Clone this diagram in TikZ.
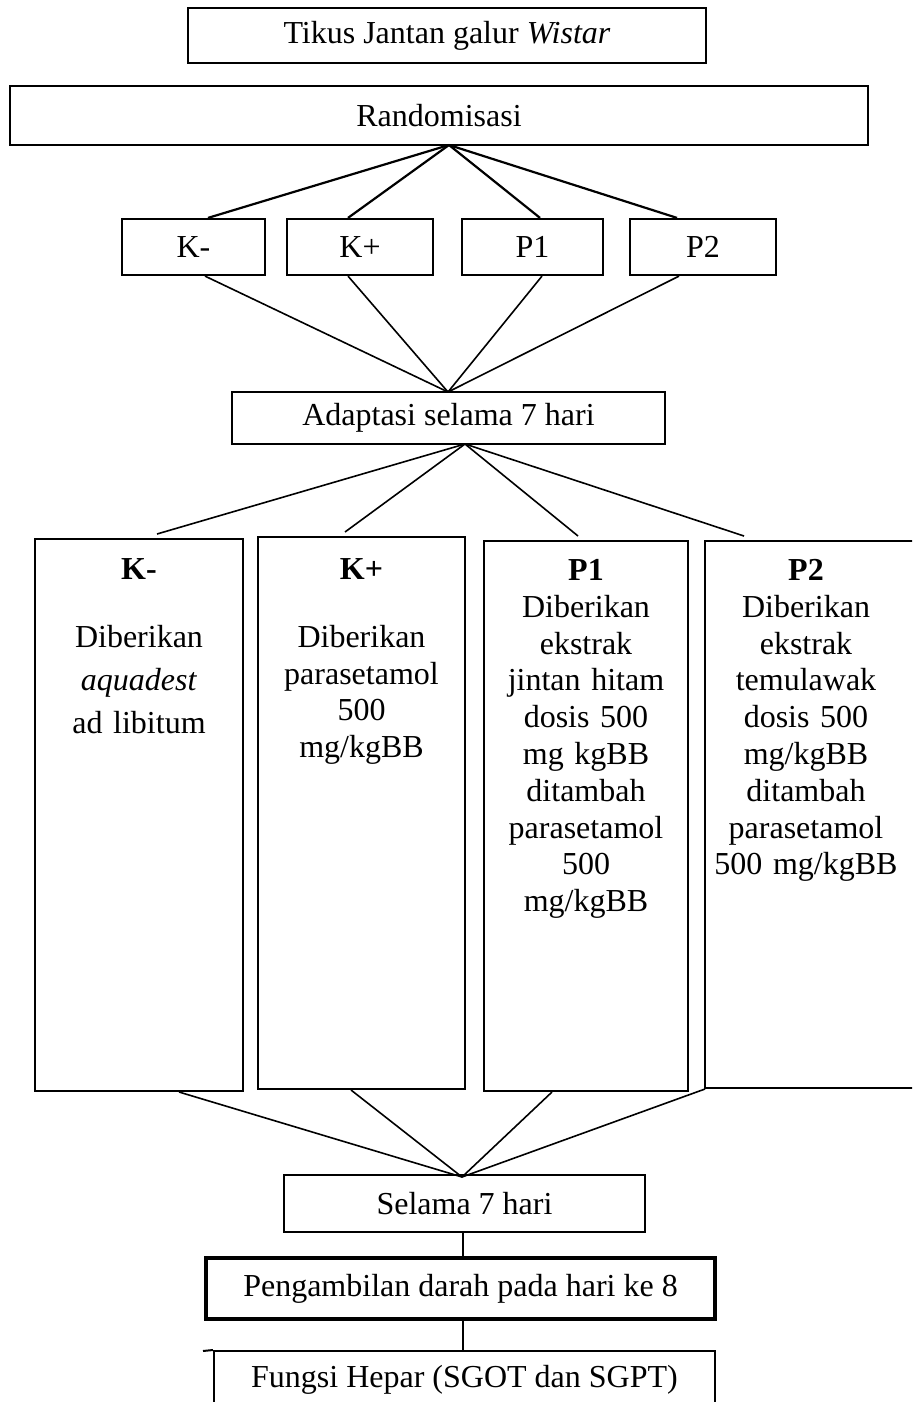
\documentclass[tikz,border=0pt]{standalone}
\usepackage{fontspec}
\setmainfont{Liberation Serif}
\usetikzlibrary{positioning,calc}
\tikzstyle{box}=[draw, line width=1.1pt, inner sep=0pt, font=\fontsize{16}{18.4}\selectfont]
\tikzstyle{kecil}=[box, minimum height=28pt]
\tikzstyle{besar}=[draw, line width=1pt, inner sep=0pt]
\tikzstyle{isi}=[anchor=north, inner sep=0pt, text width=100pt, align=center]
\tikzstyle{garis}=[line width=0.8pt]

\begin{document}
\begin{tikzpicture}[x=0.5pt, y=-0.5pt]
	\useasboundingbox (0,0) rectangle (912,1402);
	\clip (0,0) rectangle (912,1402);

		% Alur atas
		\node[box, minimum width=259pt, minimum height=27.5pt] (tikus) at (447,35.5) {Tikus Jantan galur \textit{Wistar}};
		\node[box, minimum width=429pt, minimum height=29.5pt] (acak) at (439,115.5) {Randomisasi};
		% Kelompok
		\foreach \xpos/\w/\lab/\nm in {193.5/71.5/K-/km, 360/73/K+/kp, 532.5/70.5/P1/pa, 703/73/P2/pb}
		\node[kecil, minimum width=\w pt] (\nm) at (\xpos,247) {\lab};
		\node[box, line width=1pt, minimum width=216.5pt, minimum height=26pt] (adaptasi) at (448.5,418) {Adaptasi selama 7 hari};
		% Perlakuan
		\node[besar, minimum width=104pt, minimum height=276pt] (bkm) at (139,815) {};
		\node[besar, minimum width=103.5pt, minimum height=276pt] (bkp) at (361.5,813) {};
		\node[besar, minimum width=102pt, minimum height=275pt] (bpa) at (586,816) {};
		\node[besar, minimum width=112.5pt, minimum height=273.5pt] (bpb) at (817.5,814.5) {};
		\node[isi, font=\fontsize{16}{21.5}\selectfont] (tkm) at (139,558)
			{\textbf{K-}\\[12.5pt] Diberikan\\ \textit{aquadest}\\ ad libitum};
		\node[isi, font=\fontsize{16}{18.4}\selectfont] (tkp) at (361.5,558)
			{\textbf{K+}\\[15.6pt] Diberikan\\ parasetamol\\ 500\\ mg/kgBB};
		\node[isi, font=\fontsize{16}{18.4}\selectfont] (tpa) at (586,559)
			{\textbf{P1}\\ Diberikan\\ ekstrak\\ jintan hitam\\ dosis 500\\ mg kgBB\\ ditambah\\ parasetamol\\ 500\\ mg/kgBB};
		\node[isi, font=\fontsize{16}{18.4}\selectfont] (tpb) at (806,559)
			{\textbf{P2}\\ Diberikan\\ ekstrak\\ temulawak\\ dosis 500\\ mg/kgBB\\ ditambah\\ parasetamol\\ 500 mg/kgBB};
		% Alur bawah
		\node[box, line width=1pt, minimum width=180.5pt, minimum height=28.5pt] (selama) at (464.5,1203.5) {Selama 7 hari};
		\node[box, line width=1.7pt, minimum width=254.5pt, minimum height=30.5pt] (ambil) at (460.5,1288.5) {Pengambilan darah pada hari ke 8};
		\node[box, line width=1pt, minimum width=250.5pt, minimum height=29pt] (fungsi) at (464.5,1380) {Fungsi Hepar (SGOT dan SGPT)};

		\coordinate (c1) at (449,145);
		\coordinate (c2) at (448,392);
		\coordinate (c3) at (465,444);
		\coordinate (c4) at (462,1177);
		\coordinate (tick) at (203,1351);

		\foreach \x/\to in {208/km, 348/kp, 540/pa, 677/pb}
		\draw[garis, line width=1.1pt] (c1) -- (\x,0 |- \to.north);
		\foreach \x/\from in {205/km, 348/kp, 542/pa, 679/pb}
		\draw[garis] (\x,0 |- \from.south) -- (c2);
		\foreach \x/\to in {157/bkm, 345/bkp, 578/bpa, 744/bpb}
		\draw[garis] (c3) -- ($(\x,0 |- \to.north)+(0,-4)$);
		\foreach \x/\from in {179/bkm, 351/bkp, 552/bpa, 705/bpb}
		\draw[garis] (\x,0 |- \from.south) -- (c4);
		\draw[garis] (463,0 |- selama.south) -- (463,0 |- ambil.north);
		\draw[garis] (463,0 |- ambil.south) -- (463,0 |- fungsi.north);
		\draw[line width=1pt] (tick) -- (fungsi.north west);
\end{tikzpicture}
\end{document}
